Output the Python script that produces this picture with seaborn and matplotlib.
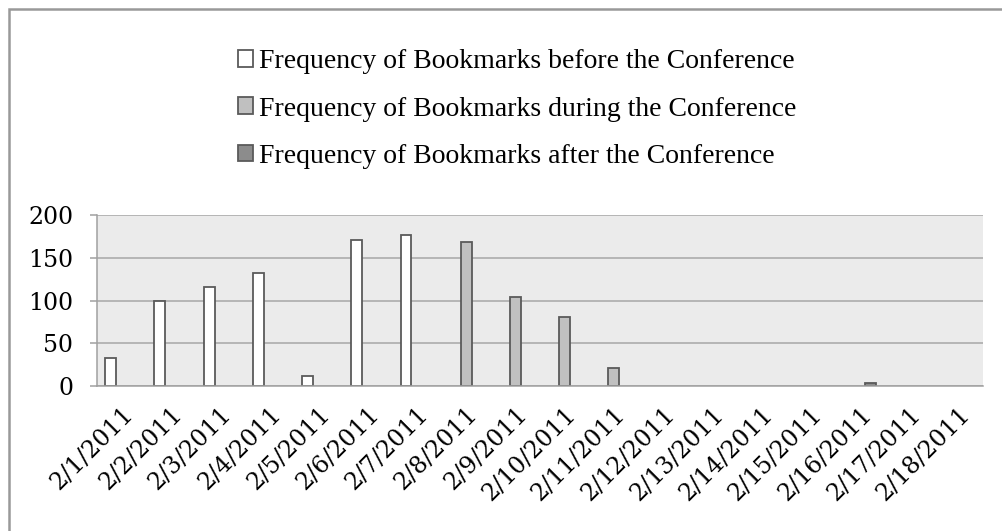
import matplotlib
matplotlib.use("Agg")
import matplotlib.pyplot as plt
import seaborn as sns
import pandas as pd
import numpy as np
from matplotlib.patches import Rectangle

dates = ['2/1/2011', '2/2/2011', '2/3/2011', '2/4/2011', '2/5/2011', '2/6/2011',
         '2/7/2011', '2/8/2011', '2/9/2011', '2/10/2011', '2/11/2011', '2/12/2011',
         '2/13/2011', '2/14/2011', '2/15/2011', '2/16/2011', '2/17/2011', '2/18/2011']
before = [33, 99, 116, 132, 12, 171, 177, None, None, None, None, None,
          None, None, None, None, None, None]
during = [None, None, None, None, None, None, None, 168, 104, 81, 21, None,
          None, None, None, None, None, None]
after = [None, None, None, None, None, None, None, None, None, None, None, None,
         None, None, None, 4, None, None]
series_names = ['Frequency of Bookmarks before the Conference',
                'Frequency of Bookmarks during the Conference',
                'Frequency of Bookmarks after the Conference']
y_ticks = [0, 50, 100, 150, 200]

rows = []
for name, vals in zip(series_names, [before, during, after]):
    for d, v in zip(dates, vals):
        rows.append({'date': d, 'period': name, 'value': np.nan if v is None else v})
df = pd.DataFrame(rows)

sns.set_theme(style='white')
plt.rcParams['font.family'] = ['Liberation Serif', 'DejaVu Serif']
plt.rcParams['text.color'] = 'black'
plt.rcParams['xtick.labelcolor'] = 'black'
plt.rcParams['ytick.labelcolor'] = 'black'

W, H = 1002, 531
fig = plt.figure(figsize=(W / 100, H / 100), dpi=100)
ax = fig.add_axes([97 / W, 1 - 386 / H, (983 - 97) / W, (386 - 215) / H])

palette = {series_names[0]: '#ffffff', series_names[1]: '#c0c0c0', series_names[2]: '#8c8c8c'}
sns.barplot(data=df, x='date', y='value', hue='period', order=dates,
            hue_order=series_names, palette=palette, width=0.667,
            edgecolor='#5a5a5a', linewidth=1.3, errorbar=None, ax=ax, saturation=1)

tick_font = {'family': 'DejaVu Serif', 'size': 17}
ax.set_facecolor('#ebebeb')
ax.set_xlim(-0.5, len(dates) - 0.5)
ax.set_ylim(0, 200)
ax.set_yticks(y_ticks)
ax.set_yticklabels([str(t) for t in y_ticks], fontdict=tick_font, color='black')
ax.set_xlabel('')
ax.set_ylabel('')
ax.grid(axis='y', color='#a6a6a6', linewidth=1.1)
ax.grid(axis='x', visible=False)
ax.set_axisbelow(True)
for s in ['top', 'right']:
    ax.spines[s].set_visible(False)
for s in ['left', 'bottom']:
    ax.spines[s].set_color('#a0a0a0')
    ax.spines[s].set_linewidth(1.1)

ax.set_xticks(range(len(dates)))
ax.set_xticklabels(dates, rotation=45, ha='right', va='top', rotation_mode='anchor',
                   fontdict=tick_font, color='black')
ax.set_xticks(np.arange(-0.5, len(dates)), minor=True)
ax.tick_params(axis='x', which='major', length=0, pad=12)
ax.tick_params(axis='x', which='minor', length=5, width=1.1, color='#a0a0a0')
ax.tick_params(axis='y', which='major', length=5, width=1.1, color='#a0a0a0', pad=12, left=True)

handles, labels = ax.get_legend_handles_labels()
if ax.get_legend() is not None:
    ax.get_legend().remove()
fig.legend(handles, labels, loc='center', bbox_to_anchor=(517 / W, 1 - 109 / H),
           frameon=False, fontsize=20, handlelength=0.55, handleheight=0.55,
           handletextpad=0.2, labelspacing=0.8, borderpad=0, labelcolor='black')

fig.add_artist(Rectangle((8.5 / W, -0.1), 1.2, 1.1 - 8.5 / H, fill=False,
                         edgecolor='#999999', linewidth=1.8, transform=fig.transFigure))

fig.savefig('out.png', dpi=100)
